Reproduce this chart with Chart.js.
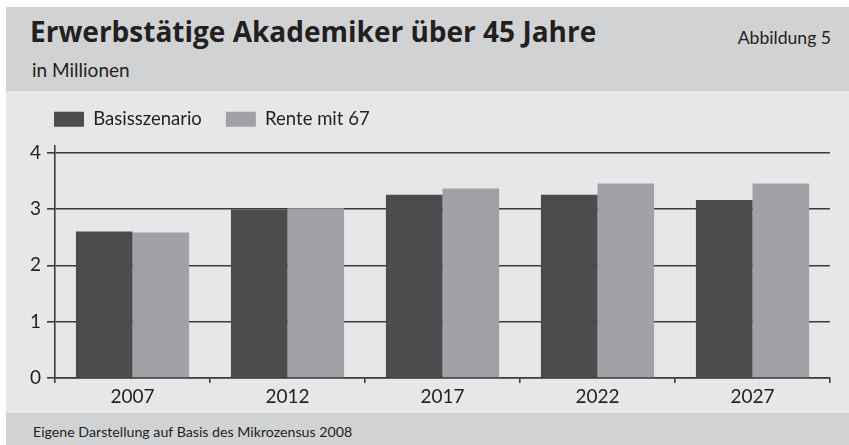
<!DOCTYPE html>
<html lang="de">
<head>
<meta charset="utf-8">
<title>Erwerbstätige Akademiker über 45 Jahre</title>
<script src="https://cdn.jsdelivr.net/npm/chart.js@4.4.0/dist/chart.umd.min.js"></script>
<style>
  html, body { margin: 0; padding: 0; background: #fff; }
  body { width: 849px; height: 445px; position: relative; overflow: hidden;
         font-family: Lato, 'Open Sans', sans-serif; color: #231f20; }
  .band { position: absolute; left: 6px; right: 0; }
  #kopf { top: 7px; height: 84px; background: #d1d2d4; }
  #flaeche { top: 91px; height: 322px; background: #e6e7e8; }
  #fuss { top: 413px; bottom: 0; background: #d1d2d4; }
  .txt { position: absolute; white-space: nowrap; line-height: 1.2; }
  #titel { left: 30px; top: 14.6px; font-family: 'Open Sans', Lato, sans-serif; font-size: 28px; font-weight: bold; }
  #einheit { left: 32px; top: 59px; font-size: 19px; }
  #abb { right: 18px; top: 27px; font-size: 17.6px; }
  #quelle { left: 33px; top: 422.7px; font-size: 14.2px; }
  #chartBox { position: absolute; left: 6px; top: 84px; width: 843px; height: 329px; }
</style>
</head>
<body>
<div class="band" id="kopf"></div>
<div class="band" id="flaeche"></div>
<div class="band" id="fuss"></div>
<div class="txt" id="titel">Erwerbstätige Akademiker über 45 Jahre</div>
<div class="txt" id="einheit">in Millionen</div>
<div class="txt" id="abb">Abbildung 5</div>
<div class="txt" id="quelle">Eigene Darstellung auf Basis des Mikrozensus 2008</div>
<div id="chartBox"><canvas id="akademikerChart"></canvas></div>
<script>
// Daten (Millionen)
const jahre = ['2007', '2012', '2017', '2022', '2027'];
const basisszenario = [2.6, 2.99, 3.25, 3.25, 3.16];
const renteMit67 = [2.58, 3.01, 3.36, 3.45, 3.45];
const yTicks = [0, 1, 2, 3, 4];

const schrift = 'Lato, "Open Sans", sans-serif';
const linie = '#3b3b3b';

document.addEventListener('DOMContentLoaded', function() {
    const ctx = document.getElementById('akademikerChart').getContext('2d');
    new Chart(ctx, {
        type: 'bar',
        data: {
            labels: jahre,
            datasets: [{
                label: 'Basisszenario',
                data: basisszenario,
                backgroundColor: '#4b4c4e',
                borderWidth: 0,
                categoryPercentage: 0.73,
                barPercentage: 1
            }, {
                label: 'Rente mit 67',
                data: renteMit67,
                backgroundColor: '#a0a1a4',
                borderWidth: 0,
                categoryPercentage: 0.73,
                barPercentage: 1
            }]
        },
        options: {
            responsive: true,
            maintainAspectRatio: false,
            animation: false,
            events: [],
            layout: { padding: { left: 24, top: 2, right: 19, bottom: 3 } },
            plugins: {
                tooltip: { enabled: false },
                legend: {
                    position: 'top',
                    align: 'start',
                    labels: {
                        boxWidth: 30,
                        boxHeight: 15,
                        padding: 24,
                        color: '#231f20',
                        font: { family: schrift, size: 18.5 }
                    }
                },
                // nur Abstand zwischen Legende und Diagramm
                title: {
                    display: true,
                    text: '',
                    weight: 500,
                    font: { size: 1, lineHeight: 1 },
                    padding: { top: 0, bottom: 6.25 }
                }
            },
            scales: {
                x: {
                    grid: { display: true, drawOnChartArea: false, drawTicks: true, tickLength: 5, color: linie, lineWidth: 1.6, offset: true },
                    border: { display: true, color: linie, width: 1.6 },
                    ticks: { color: '#231f20', padding: 3, font: { family: schrift, size: 19, lineHeight: 1.1 } }
                },
                y: {
                    min: 0,
                    max: 4.12,
                    afterFit: function(s) { s.width = 25; },
                    afterBuildTicks: function(s) { s.ticks = yTicks.map(v => ({ value: v })); },
                    grid: { color: linie, lineWidth: 1.6, tickLength: 8, drawTicks: true },
                    border: { display: true, color: linie, width: 1.6 },
                    ticks: { color: '#231f20', padding: 6, font: { family: schrift, size: 19 } }
                }
            }
        }
    });
});
</script>
</body>
</html>
